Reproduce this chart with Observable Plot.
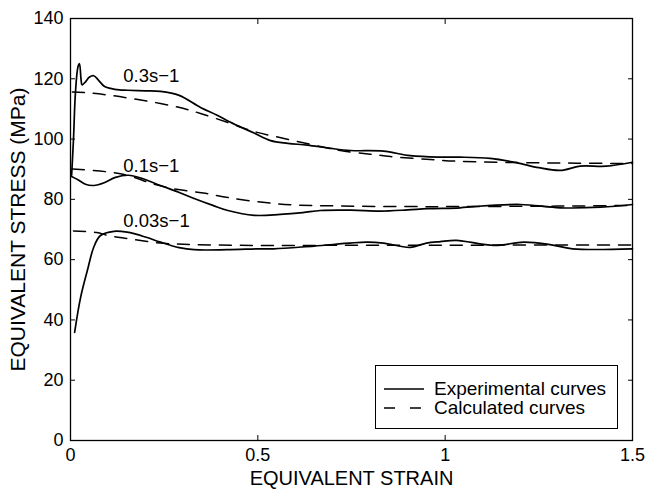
<!DOCTYPE html>
<html><head><meta charset="utf-8">
<script src="https://cdn.jsdelivr.net/npm/d3@7"></script>
<script src="https://cdn.jsdelivr.net/npm/@observablehq/plot@0.6"></script>
<style>
body{margin:0;background:#fff;}
#wrap{position:relative;width:645px;height:492px;font-family:"Liberation Sans",Arial,Helvetica,sans-serif;}
#legend{position:absolute;left:375px;top:365px;width:243px;height:64px;border:1.3px solid #000;box-sizing:border-box;background:#fff;font-size:19px;}
#legend .row{position:absolute;left:8px;display:flex;align-items:center;height:20px;}
#legend .row span{margin-left:10px;white-space:nowrap;}
</style></head><body><div id="wrap"></div>
<script>
// ---- data ----
const xTicks = [0, 0.5, 1, 1.5];
const yTicks = [0, 20, 40, 60, 80, 100, 120, 140];

const exp03Strain = [0.003,0.008,0.013,0.02,0.024,0.028,0.031,0.04,0.05,0.062,0.075,0.09,0.107,0.13,0.152,0.2,0.24,0.29,0.347,0.39,0.42,0.454,0.49,0.534,0.58,0.632,0.69,0.747,0.835,0.907,0.987,1.04,1.12,1.19,1.25,1.307,1.36,1.43,1.5];
const exp03Stress = [88,100,115,124,125,120,118,119,120.5,121,119.5,117.5,116.8,116.3,116.2,116,115.8,114.5,110.5,108,106,104,102,99.5,98.6,98,97,96.2,96,94.5,94,94,93.6,92.2,90.5,89.6,91,91,92.3];

const calc03Strain = [0.005,0.05,0.107,0.17,0.24,0.3,0.347,0.42,0.49,0.57,0.65,0.72,0.8,0.854,0.95,1.04,1.2,1.35,1.5];
const calc03Stress = [115.6,115.3,114.5,113.3,111.8,110.2,108.5,105.5,102.5,100.2,98,96.2,95,94.2,93.3,92.6,92.2,92,91.9];

const exp01Strain = [0.003,0.02,0.04,0.062,0.09,0.12,0.155,0.19,0.24,0.29,0.33,0.38,0.42,0.49,0.56,0.62,0.667,0.75,0.827,0.9,0.953,1.04,1.076,1.2,1.307,1.415,1.5];
const exp01Stress = [87.6,86.5,85,84.6,85.5,87.3,88,87,84.6,82.3,80.3,78,76.3,74.7,75,75.6,76.3,76.4,76.1,76.5,76.9,77.2,77.6,78.3,77.2,77.4,78.3];

const calc01Strain = [0.005,0.06,0.107,0.133,0.17,0.213,0.27,0.36,0.42,0.507,0.587,0.72,0.9,1.04,1.2,1.35,1.5];
const calc01Stress = [90.1,89.6,89,88.5,87.3,85.4,83.6,82,80.6,79.1,78.2,77.8,77.6,77.6,77.7,77.8,78];

const exp003Strain = [0.011,0.027,0.045,0.062,0.08,0.116,0.151,0.2,0.24,0.29,0.33,0.418,0.507,0.543,0.65,0.79,0.835,0.907,0.95,0.987,1.03,1.13,1.21,1.28,1.34,1.5];
const exp003Stress = [35.9,47.5,56.4,64.1,68,69.4,69.1,67.5,65.8,64,63.3,63.3,63.6,63.6,64.5,65.8,65.5,64.1,65.5,66,66.4,64.7,65.8,65,63.6,63.6];

const calc003Strain = [0.008,0.07,0.1,0.151,0.24,0.33,0.507,0.8,1.0,1.5];
const calc003Stress = [69.5,69,68,67,65.5,65,64.7,64.8,64.8,64.9];

const rateLabels = ["0.3s−1", "0.1s−1", "0.03s−1"];
const labelStrain = [0.141, 0.141, 0.141];
const labelStress = [120.8, 90.9, 72.7];

const legendLabels = ["Experimental curves", "Calculated curves"];
const xTitle = "EQUIVALENT STRAIN";
const yTitle = "EQUIVALENT STRESS (MPa)";

// ---- build ----
const toPts = (xs, ys) => xs.map((x, i) => ({x, y: ys[i]}));
const expSeries = [toPts(exp03Strain, exp03Stress), toPts(exp01Strain, exp01Stress), toPts(exp003Strain, exp003Stress)];
const calcSeries = [toPts(calc03Strain, calc03Stress), toPts(calc01Strain, calc01Stress), toPts(calc003Strain, calc003Stress)];
const labels = rateLabels.map((t, i) => ({t, x: labelStrain[i], y: labelStress[i]}));

const font = "Liberation Sans, Arial, Helvetica, sans-serif";
const marks = [];
for (const s of calcSeries) marks.push(Plot.line(s, {x: "x", y: "y", stroke: "#000", strokeWidth: 1.5, strokeDasharray: "12,9", curve: "catmull-rom"}));
for (const s of expSeries) marks.push(Plot.line(s, {x: "x", y: "y", stroke: "#000", strokeWidth: 1.7, curve: "catmull-rom"}));
marks.push(Plot.text(labels, {x: "x", y: "y", text: "t", textAnchor: "start", fontSize: 18.5, fill: "#000"}));
marks.push(Plot.frame({stroke: "#000", strokeWidth: 1.3}));
marks.push(Plot.axisX({ticks: xTicks, tickSize: 0, tickPadding: 8, fontSize: 18, label: null, tickFormat: d => String(d)}));
marks.push(Plot.axisX({ticks: xTicks, anchor: "bottom", tickSize: -5, tickFormat: () => "", label: null}));
marks.push(Plot.axisX({ticks: xTicks, anchor: "top", tickSize: -5, tickFormat: () => "", label: null}));
marks.push(Plot.axisY({ticks: yTicks, tickSize: 0, tickPadding: 7, fontSize: 18, label: null}));
marks.push(Plot.axisY({ticks: yTicks, anchor: "left", tickSize: -5, tickFormat: () => "", label: null}));
marks.push(Plot.axisY({ticks: yTicks, anchor: "right", tickSize: -5, tickFormat: () => "", label: null}));
marks.push(Plot.text([xTitle], {frameAnchor: "bottom", dy: 38, lineAnchor: "middle", textAnchor: "middle", fontSize: 20, fill: "#000"}));
marks.push(Plot.text([yTitle], {frameAnchor: "left", dx: -52, rotate: -90, textAnchor: "middle", lineAnchor: "middle", fontSize: 21, fill: "#000", style: "letter-spacing:0.6px"}));

const chart = Plot.plot({
  width: 645, height: 492,
  marginLeft: 70, marginRight: 13, marginTop: 18, marginBottom: 52,
  style: {fontFamily: font, color: "#000", background: "#fff", overflow: "visible"},
  x: {domain: [0, 1.5]},
  y: {domain: [0, 140]},
  marks
});
const wrap = document.getElementById("wrap");
wrap.appendChild(chart);

// legend inside the axes (HTML overlay)
const leg = document.createElement("div");
leg.id = "legend";
legendLabels.forEach((t, i) => {
  const row = document.createElement("div");
  row.className = "row";
  row.style.top = (13 + i * 19) + "px";
  const dash = i === 0 ? "" : 'stroke-dasharray="11,15"';
  row.innerHTML = `<svg width="40" height="20"><line x1="0" y1="10" x2="40" y2="10" stroke="#000" stroke-width="1.5" ${dash}/></svg><span>${t}</span>`;
  leg.appendChild(row);
});
wrap.appendChild(leg);
</script></body></html>
